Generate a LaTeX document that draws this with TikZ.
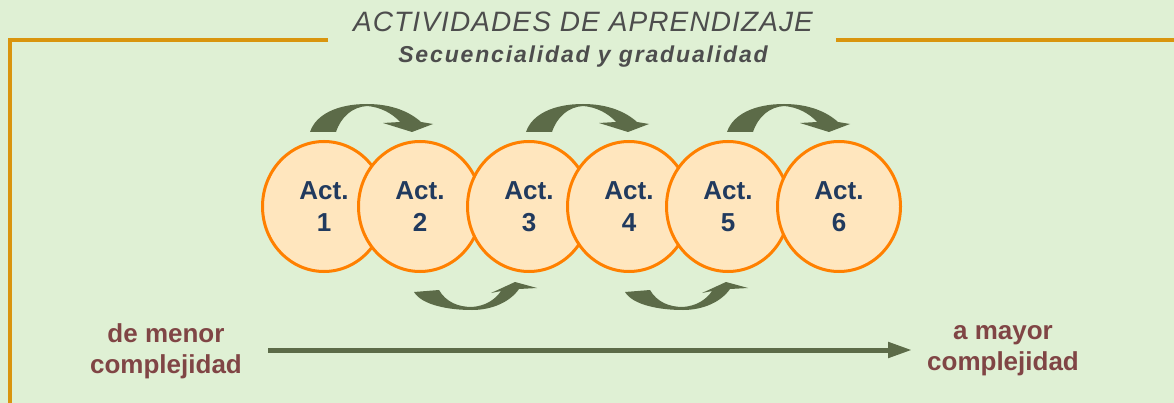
\documentclass[tikz,border=0pt]{standalone}
\usepackage{fontspec}
\setmainfont{Liberation Sans}
\newfontfamily\titlefont[LetterSpace=4]{Liberation Sans}
\newfontfamily\subfont[LetterSpace=8]{Liberation Sans}
\usetikzlibrary{arrows.meta,shapes.geometric}
\definecolor{bgc}{HTML}{DFF0D4}
\definecolor{goldc}{HTML}{D9950E}
\definecolor{peach}{HTML}{FFE6BE}
\definecolor{orangec}{HTML}{FF8000}
\definecolor{navyc}{HTML}{213A5E}
\definecolor{olivec}{HTML}{5C6B48}
\definecolor{maroonc}{HTML}{804545}
\definecolor{grayc}{HTML}{4D4D4D}
\tikzset{
  act/.style={ellipse, draw=orangec, fill=peach, line width=3pt, minimum width=123pt, minimum height=130pt, inner sep=0pt, align=center, text=navyc, font=\fontsize{26}{32}\selectfont\bfseries},
  sidelabel/.style={align=center, text=maroonc, inner sep=0pt, font=\fontsize{26}{31}\selectfont\bfseries},
  frameline/.style={draw=goldc, line width=4.5pt},
  curvearrow/.style={fill=olivec},
}
\begin{document}
\begin{tikzpicture}[x=1pt,y=-1pt]
\useasboundingbox (0,0) rectangle (1174,403);
\fill[bgc] (0,0) rectangle (1174,403);
% frame
\coordinate (fl1) at (328,40);
\coordinate (fl2) at (10,40);
\coordinate (fl3) at (10,403);
\coordinate (fr1) at (836,40);
\coordinate (fr2) at (1174,40);
\draw[frameline] (fl1) -- (fl2) -- (fl3);
\draw[frameline] (fr1) -- (fr2);
% titles
\node[anchor=base, inner sep=0pt, text=grayc, font=\fontsize{28}{28}\selectfont\titlefont\itshape] (title) at (583,32) {ACTIVIDADES DE APRENDIZAJE};
\node[anchor=base, inner sep=0pt, text=grayc, font=\fontsize{23}{23}\selectfont\subfont\bfseries\itshape] (subtitle) at (583,63) {Secuencialidad y gradualidad};
% circles
\node[act] (a1) at (324,206.5) {Act.\\1};
\node[act] (a2) at (420,206.5) {Act.\\2};
\node[act] (a3) at (529,206.5) {Act.\\3};
\node[act] (a4) at (629,206.5) {Act.\\4};
\node[act] (a5) at (728,206.5) {Act.\\5};
\node[act] (a6) at (839,206.5) {Act.\\6};
% curved arrows above
\foreach \dx in {0,216,417}{
\begin{scope}[shift={(\dx,0)}]
\fill[curvearrow] (310,132) .. controls (316,114) and (338,104) .. (367,104)
  .. controls (392,104) and (410,112) .. (421,122) -- (433,124) -- (412,132) -- (383,123) -- (400,122)
  .. controls (392,113) and (380,107) .. (367,106)
  .. controls (352,107) and (341,117) .. (336,132) -- cycle;
\end{scope}}
% curved arrows below
\foreach \dx in {0,211}{
\begin{scope}[shift={(\dx,0)}]
\fill[curvearrow] (414,292) -- (439,290) .. controls (446,302) and (458,307) .. (472,307)
  .. controls (485,306) and (495,300) .. (501,291) -- (491,293) -- (515,282) -- (537,288) -- (519,289)
  .. controls (510,302) and (492,310) .. (472,310)
  .. controls (448,310) and (422,305) .. (414,292) -- cycle;
\end{scope}}
% bottom labels and arrow
\node[sidelabel] (lo) at (166,351) {de menor\\complejidad};
\node[sidelabel] (hi) at (1003,351) {a mayor\\complejidad};
\coordinate (as) at (268,350);
\coordinate (ae) at (912,350);
\draw[olivec, line width=5pt, -{Triangle[length=24pt,width=15pt]}] (as) -- (ae);
\end{tikzpicture}
\end{document}
